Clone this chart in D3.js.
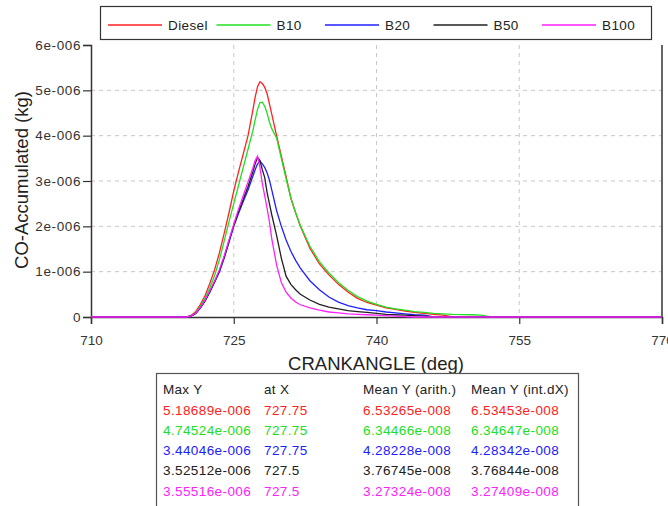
<!DOCTYPE html>
<meta charset="utf-8">
<body style="margin:0;background:#fff">
<script src="https://d3js.org/d3.v7.min.js"></script>
<script>
// crank angle grid (deg) and CO accumulated values (units of 1e-6 kg)
var angles = [710, 720, 720.5, 721, 721.5, 722, 722.5, 723, 723.5, 724, 724.5, 725, 725.5, 726, 726.5, 727,
  727.25, 727.5, 727.75, 728, 728.25, 728.5, 728.75, 729, 729.5, 730, 730.5, 731, 731.5, 732, 733, 734, 735,
  736, 737, 738, 739, 740, 741, 742, 743, 744, 745, 746, 747, 748, 750, 751, 752, 770];

var diesel = [0, 0, 0.03, 0.12, 0.28, 0.48, 0.75, 1.05, 1.42, 1.85, 2.3, 2.78, 3.2, 3.6, 4.0, 4.55,
  4.85, 5.08, 5.19, 5.15, 5.07, 4.93, 4.7, 4.47, 4.0, 3.55, 3.1, 2.62, 2.3, 2.0, 1.52, 1.17, 0.93,
  0.72, 0.55, 0.41, 0.32, 0.26, 0.2, 0.17, 0.13, 0.1, 0.08, 0.06, 0.04, 0, 0, 0, 0, 0];
var b10 = [0, 0, 0.02, 0.1, 0.24, 0.42, 0.65, 0.92, 1.27, 1.68, 2.1, 2.5, 2.9, 3.3, 3.7, 4.1,
  4.35, 4.58, 4.73, 4.74, 4.65, 4.5, 4.3, 4.15, 3.95, 3.5, 3.05, 2.63, 2.3, 2.02, 1.56, 1.22, 0.97,
  0.76, 0.59, 0.45, 0.35, 0.28, 0.22, 0.18, 0.15, 0.12, 0.1, 0.08, 0.07, 0.06, 0.05, 0.04, 0, 0];
var b20 = [0, 0, 0.02, 0.08, 0.2, 0.36, 0.56, 0.78, 1.0, 1.3, 1.65, 2.0, 2.28, 2.55, 2.8, 3.1,
  3.25, 3.38, 3.44, 3.38, 3.3, 3.18, 3.02, 2.8, 2.35, 2.0, 1.7, 1.45, 1.25, 1.08, 0.8, 0.6, 0.44,
  0.33, 0.25, 0.2, 0.16, 0.14, 0.11, 0.09, 0.07, 0.05, 0.04, 0, 0, 0, 0, 0, 0, 0];
var b50 = [0, 0, 0.02, 0.08, 0.2, 0.36, 0.56, 0.78, 1.02, 1.32, 1.68, 2.02, 2.32, 2.6, 2.88, 3.2,
  3.38, 3.52, 3.45, 3.25, 3.08, 2.75, 2.5, 2.25, 1.8, 1.3, 0.9, 0.72, 0.6, 0.5, 0.375, 0.28, 0.22,
  0.18, 0.14, 0.12, 0.1, 0.08, 0.06, 0.05, 0.04, 0.03, 0.02, 0, 0, 0, 0, 0, 0, 0];
var b100 = [0, 0, 0.02, 0.09, 0.21, 0.38, 0.58, 0.8, 1.05, 1.35, 1.7, 2.05, 2.38, 2.68, 2.98, 3.28,
  3.45, 3.55, 3.3, 2.95, 2.68, 2.4, 2.1, 1.72, 1.15, 0.76, 0.55, 0.42, 0.33, 0.27, 0.2, 0.15, 0.11,
  0.09, 0.07, 0.06, 0.05, 0.04, 0.03, 0.02, 0.01, 0, 0, 0, 0, 0, 0, 0, 0, 0];

var names = ["Diesel", "B10", "B20", "B50", "B100"];
var colors = ["#ff2020", "#20e020", "#2020ff", "#202020", "#ff20ff"];
var seriesVals = [diesel, b10, b20, b50, b100];

var xTicks = [710, 725, 740, 755, 770];
var yTicks = [0, 1, 2, 3, 4, 5, 6];
var yTickLabels = ["0", "1e-006", "2e-006", "3e-006", "4e-006", "5e-006", "6e-006"];

var statHeader = ["Max Y", "at X", "Mean Y (arith.)", "Mean Y (int.dX)"];
var maxY = ["5.18689e-006", "4.74524e-006", "3.44046e-006", "3.52512e-006", "3.55516e-006"];
var atX = ["727.75", "727.75", "727.75", "727.5", "727.5"];
var meanArith = ["6.53265e-008", "6.34466e-008", "4.28228e-008", "3.76745e-008", "3.27324e-008"];
var meanInt = ["6.53453e-008", "6.34647e-008", "4.28342e-008", "3.76844e-008", "3.27409e-008"];

var W = 668, H = 506;
var plot = {left: 91, right: 662, top: 45, bottom: 317};
var font = "'Liberation Sans', Arial, sans-serif";

var svg = d3.select("body").append("svg")
    .attr("width", W)
    .attr("height", H)
    .style("font-family", font);

var x = d3.scaleLinear().domain([710, 770]).range([plot.left, plot.right]);
var y = d3.scaleLinear().domain([0, 6]).range([plot.bottom, plot.top]);

// grid
var grid = svg.append("g").attr("stroke", "#c8c8c8").attr("stroke-dasharray", "4,4");
grid.selectAll("line.gx").data([725, 740, 755]).enter().append("line")
    .attr("x1", d => x(d)).attr("x2", d => x(d))
    .attr("y1", plot.top).attr("y2", plot.bottom);
grid.selectAll("line.gy").data([1, 2, 3, 4, 5]).enter().append("line")
    .attr("x1", plot.left).attr("x2", plot.right)
    .attr("y1", d => y(d)).attr("y2", d => y(d));

// right border
svg.append("line")
    .attr("x1", plot.right).attr("x2", plot.right)
    .attr("y1", plot.top).attr("y2", plot.bottom)
    .attr("stroke", "#333").attr("stroke-width", 1.5);

// x axis
var xAxis = svg.append("g")
    .attr("transform", "translate(0," + plot.bottom + ")");
xAxis.call(d3.axisBottom(x).tickValues(d3.range(710, 770.01, 3.75)).tickSize(6).tickFormat(""));
xAxis.call(d3.axisBottom(x).tickValues(xTicks).tickSize(7).tickPadding(11).tickFormat(d3.format("d")));
xAxis.selectAll("path").attr("stroke", "#333").attr("stroke-width", 1.5);
xAxis.selectAll("line").attr("stroke", "#333").attr("stroke-width", 1.2);
xAxis.selectAll("text").style("font-family", font).attr("font-size", 13.5).attr("fill", "#333");

// y axis
var yAxis = svg.append("g")
    .attr("transform", "translate(" + plot.left + ",0)");
yAxis.call(d3.axisLeft(y).tickValues(d3.range(0, 6.01, 0.2)).tickSize(4).tickFormat(""));
yAxis.call(d3.axisLeft(y).tickValues(yTicks).tickSize(8).tickPadding(2)
    .tickFormat((d, i) => yTickLabels[i]));
yAxis.selectAll("path").attr("stroke", "#333").attr("stroke-width", 1.5);
yAxis.selectAll("line").attr("stroke", "#333").attr("stroke-width", 1.2);
yAxis.selectAll("text").style("font-family", font).attr("font-size", 13.5)
    .attr("letter-spacing", 0.6).attr("fill", "#333");

// axis titles
svg.append("text")
    .attr("x", 376).attr("y", 370)
    .attr("text-anchor", "middle").attr("font-size", 18.5).attr("fill", "#222")
    .text("CRANKANGLE (deg)");
svg.append("text")
    .attr("transform", "translate(28,180) rotate(-90)")
    .attr("text-anchor", "middle").attr("font-size", 18.5).attr("fill", "#222")
    .text("CO-Accumulated (kg)");

// curves
var line = d3.line()
    .x((d, i) => x(angles[i]))
    .y(d => y(d));
svg.append("g").selectAll("path").data(seriesVals).enter().append("path")
    .attr("d", d => line(d))
    .attr("fill", "none")
    .attr("stroke", (d, i) => colors[i])
    .attr("stroke-width", 1.3);

// legend
var leg = svg.append("g");
leg.append("rect")
    .attr("x", 100.5).attr("y", 6.5).attr("width", 551).attr("height", 33)
    .attr("fill", "#fff").attr("stroke", "#333").attr("stroke-width", 1.2);
var items = leg.selectAll("g.item").data(names).enter().append("g")
    .attr("transform", (d, i) => "translate(" + (108 + i * 108.5) + ",25)");
items.append("line")
    .attr("x1", 0).attr("x2", 54).attr("y1", 0).attr("y2", 0)
    .attr("stroke", (d, i) => colors[i]).attr("stroke-width", 1.3);
items.append("text")
    .attr("x", 60).attr("y", 5)
    .attr("font-size", 13.5).attr("letter-spacing", 0.4).attr("fill", "#222")
    .text(d => d);

// stats table
var tab = svg.append("g");
tab.append("rect")
    .attr("x", 156.5).attr("y", 373.5).attr("width", 422).attr("height", 140)
    .attr("fill", "#fff").attr("stroke", "#555").attr("stroke-width", 1.2);
var colX = [163, 264, 363, 471];
statHeader.forEach(function(h, j) {
  tab.append("text").attr("x", colX[j]).attr("y", 394)
      .attr("font-size", 13.5).attr("letter-spacing", 0.3).attr("fill", "#222").text(h);
});
var rows = [maxY, atX, meanArith, meanInt];
names.forEach(function(n, i) {
  rows.forEach(function(col, j) {
    tab.append("text").attr("x", colX[j]).attr("y", 414.5 + i * 20.3)
        .attr("font-size", 13.5).attr("letter-spacing", 0.4).attr("fill", colors[i]).text(col[i]);
  });
});
</script>
</body>
